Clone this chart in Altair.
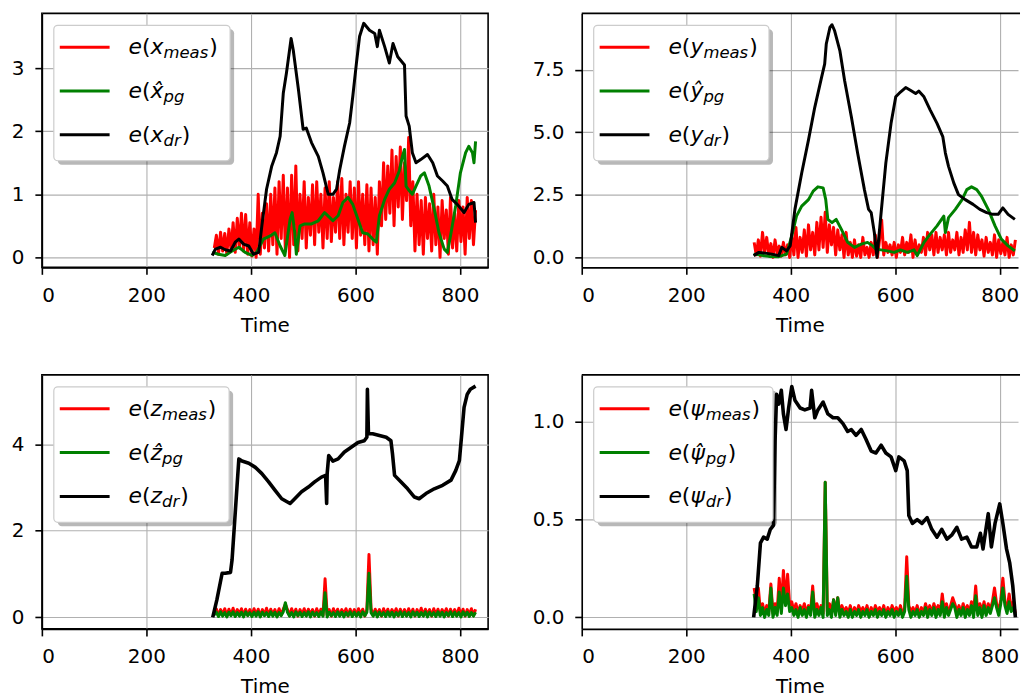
import altair as alt
import pandas as pd

FONT = "DejaVu Sans"
PW, PH = 448, 255
PW_R = 438                      # right-hand panels are cut by the page edge
XDOM = [0, 854]
XDOM_R = [0, 835]
XTICKS = [0, 200, 400, 600, 800]

# common sample times of the noisy measured / pose-graph series
T_NOISY = list(range(330, 831, 4))

# ---------------- panel 1 : x ----------------
t_x_dr = [326, 332, 342, 351, 361, 370, 377, 386, 396, 405, 415, 421, 430, 440, 449, 456, 462, 468, 477, 481,
          491, 500, 506, 516, 529, 538, 548, 557, 564, 570, 579, 589, 595, 602, 608, 616, 627, 637, 642, 646,
          656, 665, 672, 681, 694, 697, 703, 709, 716, 725, 738, 748, 757, 767, 776, 785, 795, 808, 817, 827, 830]
v_x_dr = [0.03, 0.13, 0.16, 0.12, 0.10, 0.24, 0.29, 0.21, 0.18, 0.05, 0.08, 0.50, 1.08, 1.45, 1.66, 1.92, 2.60, 2.92, 3.47, 3.29,
          2.66, 2.03, 2.05, 1.82, 1.60, 1.34, 1.00, 1.00, 1.08, 1.39, 1.76, 2.13, 2.55, 3.08, 3.50, 3.71, 3.60, 3.55, 3.34, 3.60,
          3.34, 3.08, 3.39, 3.18, 3.05, 2.24, 2.08, 1.66, 1.50, 1.55, 1.63, 1.50, 1.29, 1.21, 1.13, 0.92, 0.84, 0.71, 0.84, 0.87, 0.55]
t_x_pg = [326, 338, 351, 364, 377, 389, 402, 411, 424, 437, 446, 456, 465, 475, 479, 484, 487, 494, 503, 516,
          529, 541, 551, 557, 567, 576, 586, 595, 605, 614, 624, 633, 640, 646, 656, 665, 675, 684, 690, 694,
          697, 701, 709, 716, 725, 732, 741, 751, 760, 770, 776, 782, 792, 801, 811, 817, 824, 827, 830]
v_x_pg = [0.08, 0.05, 0.03, 0.10, 0.16, 0.08, 0.03, 0.08, 0.29, 0.34, 0.39, 0.18, 0.03, 0.60, 0.71, 0.39, 0.05, 0.50, 0.53, 0.53,
          0.58, 0.71, 0.63, 0.58, 0.66, 0.87, 0.95, 0.84, 0.60, 0.39, 0.37, 0.29, 0.24, 0.66, 0.92, 1.08, 1.18, 1.37, 1.60, 1.71,
          1.13, 1.08, 1.00, 1.13, 1.29, 1.34, 1.13, 0.76, 0.39, 0.13, 0.08, 0.34, 0.82, 1.34, 1.66, 1.76, 1.66, 1.50, 1.84]
v_x_meas = [0.15, 0.35, 0.05, 0.40, 0.10, 0.38, 0.05, 0.45, 0.12, 0.55, 0.08, 0.62, 0.15, 0.70, 0.10, 0.68, 0.05, 0.55, 0.02, 0.45,
            0.00, 1.00, 0.05, 0.70, 0.15, 0.85, 0.10, 1.00, 0.20, 1.10, 0.05, 1.20, 0.30, 1.30, 0.10, 1.10, 0.00, 1.30, 0.20, 1.45,
            0.10, 1.00, 0.30, 1.20, 0.15, 0.95, 0.35, 1.15, 0.20, 1.20, 0.40, 1.00, 0.15, 1.10, 0.30, 1.20, 0.25, 0.95, 0.40, 1.20,
            0.30, 1.25, 0.20, 1.00, 0.40, 1.20, 0.30, 1.10, 0.15, 1.20, 0.35, 1.00, 0.20, 1.15, 0.10, 1.10, 0.20, 0.95, 0.05, 1.20,
            0.50, 1.50, 0.60, 1.45, 0.70, 1.70, 0.50, 1.60, 0.80, 1.75, 0.60, 1.50, 0.90, 1.90, 0.50, 1.20, 0.10, 1.00, 0.20, 0.90,
            0.05, 0.95, 0.30, 0.85, 0.10, 1.00, 0.20, 0.80, 0.00, 0.90, 0.30, 0.75, 0.05, 0.95, 0.15, 0.70, 0.10, 0.90, 0.25, 0.80,
            0.05, 0.95, 0.30, 0.90, 0.20, 0.75]

# ---------------- panel 2 : y ----------------
t_y_dr = [329, 339, 351, 364, 377, 383, 392, 399, 408, 421, 434, 446, 459, 465, 468, 475, 479, 484, 494, 503,
          516, 528, 541, 549, 554, 560, 565, 573, 582, 592, 601, 610, 620, 629, 639, 645, 655, 667, 680, 691,
          696, 702, 712, 721, 734, 749, 762, 775, 787, 797, 806, 816, 829]
v_y_dr = [0.07, 0.20, 0.17, 0.13, 0.07, 0.40, 0.26, 0.46, 1.92, 3.37, 4.70, 6.00, 7.20, 7.74, 8.53, 9.19, 9.30, 9.06, 8.27, 7.08,
          5.62, 4.17, 2.71, 1.92, 1.79, 0.99, 0.00, 1.79, 3.77, 5.36, 6.42, 6.61, 6.79, 6.68, 6.55, 6.65, 6.42, 5.89, 5.36, 4.83,
          4.17, 3.64, 2.98, 2.51, 2.31, 2.12, 1.92, 1.79, 1.72, 1.72, 1.98, 1.72, 1.52]
t_y_pg = [329, 342, 358, 377, 392, 402, 411, 421, 434, 443, 452, 462, 467, 471, 479, 487, 497, 509, 522, 535,
          547, 557, 563, 573, 585, 598, 610, 623, 636, 642, 655, 667, 680, 693, 696, 702, 715, 728, 737, 746,
          756, 765, 778, 791, 803, 816, 829]
v_y_pg = [0.13, 0.09, 0.04, 0.03, 0.13, 0.86, 1.65, 2.05, 2.31, 2.65, 2.82, 2.78, 2.31, 1.52, 1.39, 1.52, 1.12, 0.60, 0.40, 0.53,
          0.60, 0.46, 0.33, 0.30, 0.26, 0.20, 0.30, 0.20, 0.30, 0.07, 0.60, 0.93, 1.26, 1.65, 0.99, 1.59, 1.92, 2.31, 2.71, 2.82,
          2.71, 2.45, 1.92, 1.26, 0.73, 0.46, 0.26]
v_y_meas = [0.60, 0.10, 0.70, 0.05, 1.00, 0.20, 0.80, 0.10, 0.55, 0.00, 0.70, 0.15, 0.45, 0.05, 0.60, 0.10, 0.50, 0.00, 0.90, 0.10,
            1.20, 0.00, 0.80, 0.20, 1.10, 0.05, 1.30, 0.30, 1.00, 0.10, 1.40, 0.30, 1.60, 0.40, 1.80, 0.20, 1.30, 0.50, 1.20, 0.10,
            1.10, 0.30, 0.90, 0.00, 1.00, 0.10, 0.60, 0.00, 0.70, 0.05, 0.50, 0.00, 0.80, 0.10, 0.40, 0.00, 0.60, 0.10, 0.90, 0.00,
            0.70, 1.50, 0.10, 0.60, 0.20, 0.50, 0.10, 0.60, 0.00, 0.50, 0.20, 0.80, 0.10, 0.60, 0.20, 0.90, 0.00, 0.70, 0.10, 0.50,
            0.20, 0.80, 0.10, 1.00, 0.30, 0.90, 0.10, 1.00, 0.20, 0.80, 0.30, 0.90, 0.10, 1.00, 0.20, 0.70, 0.30, 1.00, 0.10, 0.80,
            0.20, 1.10, 0.30, 1.40, 0.20, 1.00, 0.10, 0.90, 0.30, 0.70, 0.05, 0.80, 0.20, 0.60, 0.10, 0.90, 0.00, 0.70, 0.15, 0.60,
            0.10, 0.80, 0.00, 0.50, 0.10, 0.70]

# ---------------- panel 3 : z ----------------
t_z_dr = [327, 335, 345, 351, 361, 364, 370, 377, 383, 396, 408, 421, 434, 446, 459, 475, 484, 497, 510, 522,
          535, 543, 545, 546, 549, 557, 567, 579, 592, 605, 617, 622, 623, 625, 633, 646, 659, 668, 671, 675,
          687, 700, 713, 722, 735, 751, 767, 783, 792, 799, 803, 808, 814, 820, 830]
v_z_dr = [0.00, 0.41, 1.02, 1.02, 1.04, 1.33, 2.40, 3.66, 3.61, 3.56, 3.47, 3.32, 3.13, 2.94, 2.74, 2.63, 2.74, 2.90, 3.01, 3.13,
          3.24, 3.28, 2.63, 3.32, 3.74, 3.61, 3.66, 3.82, 3.93, 4.04, 4.08, 4.16, 5.27, 4.24, 4.24, 4.20, 4.16, 4.08, 3.78, 3.28,
          3.13, 2.97, 2.78, 2.74, 2.86, 2.97, 3.05, 3.17, 3.39, 3.62, 4.16, 4.85, 5.15, 5.27, 5.34]
v_z_meas = [0.10, 0.19, 0.04, 0.18, 0.06, 0.20, 0.03, 0.19, 0.05, 0.21, 0.04, 0.18, 0.07, 0.20, 0.03, 0.19, 0.05, 0.18, 0.04, 0.20,
            0.06, 0.19, 0.03, 0.18, 0.05, 0.21, 0.04, 0.19, 0.06, 0.18, 0.03, 0.20, 0.05, 0.19, 0.30, 0.18, 0.04, 0.20, 0.06, 0.19,
            0.03, 0.18, 0.05, 0.20, 0.04, 0.19, 0.06, 0.18, 0.03, 0.20, 0.05, 0.19, 0.04, 0.89, 0.06, 0.18, 0.03, 0.20, 0.05, 0.19,
            0.04, 0.18, 0.06, 0.20, 0.03, 0.19, 0.05, 0.18, 0.04, 0.20, 0.06, 0.19, 0.03, 0.18, 1.45, 0.20, 0.04, 0.19, 0.06, 0.18,
            0.03, 0.20, 0.05, 0.19, 0.04, 0.18, 0.06, 0.20, 0.03, 0.19, 0.05, 0.18, 0.04, 0.20, 0.06, 0.19, 0.03, 0.18, 0.05, 0.21,
            0.04, 0.19, 0.06, 0.18, 0.03, 0.20, 0.05, 0.19, 0.04, 0.18, 0.06, 0.20, 0.03, 0.19, 0.05, 0.18, 0.04, 0.21, 0.06, 0.19,
            0.03, 0.18, 0.05, 0.20, 0.04, 0.19]
v_z_pg = [0.06, 0.12, 0.02, 0.13, 0.03, 0.11, 0.01, 0.12, 0.04, 0.13, 0.02, 0.11, 0.03, 0.12, 0.01, 0.13, 0.04, 0.11, 0.02, 0.12,
          0.03, 0.13, 0.01, 0.12, 0.04, 0.11, 0.02, 0.13, 0.03, 0.12, 0.01, 0.11, 0.04, 0.13, 0.34, 0.12, 0.03, 0.11, 0.01, 0.13,
          0.04, 0.12, 0.02, 0.11, 0.03, 0.13, 0.01, 0.12, 0.04, 0.11, 0.02, 0.13, 0.03, 0.57, 0.01, 0.12, 0.04, 0.11, 0.02, 0.13,
          0.03, 0.12, 0.01, 0.11, 0.04, 0.13, 0.02, 0.12, 0.03, 0.11, 0.01, 0.13, 0.04, 0.12, 1.02, 0.11, 0.03, 0.13, 0.01, 0.12,
          0.04, 0.11, 0.02, 0.13, 0.03, 0.12, 0.01, 0.11, 0.04, 0.13, 0.02, 0.12, 0.03, 0.11, 0.01, 0.13, 0.04, 0.12, 0.02, 0.11,
          0.03, 0.13, 0.01, 0.12, 0.04, 0.11, 0.02, 0.13, 0.03, 0.12, 0.01, 0.11, 0.04, 0.13, 0.02, 0.12, 0.03, 0.11, 0.01, 0.13,
          0.04, 0.12, 0.02, 0.11, 0.03, 0.12]

# ---------------- panel 4 : psi ----------------
t_p_dr = [329, 336, 342, 348, 355, 361, 367, 370, 373, 377, 382, 386, 391, 396, 402, 408, 418, 427, 437, 440,
          446, 452, 462, 471, 481, 490, 500, 509, 516, 525, 535, 544, 554, 563, 573, 582, 592, 601, 607, 617,
          623, 626, 633, 642, 651, 661, 670, 680, 689, 699, 708, 718, 727, 737, 746, 756, 763, 768, 778, 784,
          791, 800, 806, 813, 819, 825, 830]
v_p_dr = [0.00, 0.16, 0.38, 0.41, 0.40, 0.45, 0.47, 0.90, 1.14, 1.09, 1.16, 1.04, 0.96, 1.07, 1.18, 1.11, 1.07, 1.06, 1.07, 1.16,
          1.02, 1.06, 1.10, 1.04, 1.02, 1.02, 0.99, 0.95, 0.96, 0.93, 0.96, 0.91, 0.85, 0.84, 0.88, 0.84, 0.82, 0.75, 0.82, 0.80,
          0.75, 0.52, 0.48, 0.50, 0.48, 0.51, 0.45, 0.41, 0.45, 0.40, 0.42, 0.46, 0.40, 0.41, 0.36, 0.36, 0.43, 0.35, 0.53, 0.36,
          0.48, 0.58, 0.48, 0.35, 0.28, 0.16, 0.00]
v_p_meas = [0.15, 0.08, 0.15, 0.03, 0.07, 0.02, 0.06, 0.03, 0.17, 0.02, 0.07, 0.03, 0.20, 0.05, 0.24, 0.08, 0.22, 0.06, 0.08, 0.03,
            0.07, 0.02, 0.06, 0.03, 0.07, 0.02, 0.06, 0.03, 0.16, 0.02, 0.07, 0.03, 0.06, 0.02, 0.69, 0.03, 0.07, 0.02, 0.09, 0.03,
            0.10, 0.02, 0.06, 0.03, 0.05, 0.02, 0.06, 0.01, 0.05, 0.02, 0.06, 0.03, 0.05, 0.02, 0.06, 0.01, 0.05, 0.02, 0.06, 0.03,
            0.05, 0.02, 0.06, 0.01, 0.05, 0.02, 0.06, 0.03, 0.05, 0.02, 0.06, 0.01, 0.05, 0.31, 0.06, 0.03, 0.05, 0.02, 0.06, 0.01,
            0.05, 0.02, 0.07, 0.03, 0.06, 0.02, 0.07, 0.03, 0.06, 0.02, 0.12, 0.03, 0.07, 0.02, 0.06, 0.10, 0.07, 0.03, 0.06, 0.02,
            0.07, 0.03, 0.06, 0.02, 0.08, 0.03, 0.16, 0.02, 0.07, 0.03, 0.08, 0.02, 0.07, 0.04, 0.08, 0.15, 0.07, 0.03, 0.09, 0.20,
            0.08, 0.04, 0.12, 0.05, 0.08, 0.02]
v_p_pg = [0.12, 0.03, 0.10, 0.01, 0.05, 0.00, 0.04, 0.01, 0.15, 0.00, 0.05, 0.01, 0.13, 0.02, 0.15, 0.06, 0.12, 0.03, 0.05, 0.01,
          0.04, 0.00, 0.05, 0.01, 0.04, 0.00, 0.05, 0.01, 0.13, 0.00, 0.04, 0.01, 0.05, 0.00, 0.69, 0.01, 0.04, 0.00, 0.09, 0.01,
          0.10, 0.00, 0.04, 0.01, 0.03, 0.00, 0.04, 0.00, 0.03, 0.01, 0.04, 0.00, 0.03, 0.01, 0.04, 0.00, 0.03, 0.01, 0.04, 0.00,
          0.03, 0.01, 0.04, 0.00, 0.03, 0.01, 0.04, 0.00, 0.03, 0.01, 0.04, 0.00, 0.03, 0.21, 0.04, 0.00, 0.03, 0.01, 0.04, 0.00,
          0.03, 0.01, 0.05, 0.00, 0.04, 0.01, 0.05, 0.00, 0.04, 0.01, 0.08, 0.00, 0.05, 0.01, 0.04, 0.07, 0.05, 0.00, 0.04, 0.01,
          0.05, 0.00, 0.04, 0.01, 0.06, 0.00, 0.11, 0.01, 0.05, 0.00, 0.06, 0.01, 0.05, 0.02, 0.06, 0.10, 0.05, 0.01, 0.07, 0.15,
          0.06, 0.02, 0.08, 0.03, 0.05, 0.01]

RED, GREEN, BLACK = "#ff0000", "#008000", "#000000"

# glyph advance widths (em) for laying out the math-style legend labels
W_MAIN = {"e": 0.615, "(": 0.390, ")": 0.390, "x": 0.592, "y": 0.592, "z": 0.525, "ψ": 0.70, "\u0302": 0.0}
W_SUB = {"m": 0.974, "e": 0.615, "a": 0.613, "s": 0.521, "p": 0.635, "g": 0.635, "d": 0.635, "r": 0.411}
FS_MAIN, FS_SUB = 22, 16.5

ONE = pd.DataFrame({"k": [0]})


def text_piece(x, y, s, size, italic):
    kw = dict(align="left", baseline="alphabetic", font=FONT, fontSize=size, color="black")
    if italic:
        kw["fontStyle"] = "italic"
    return alt.Chart(ONE).mark_text(**kw).encode(x=alt.value(x), y=alt.value(y), text=alt.value(s))


def legend(sym, labels, box_right):
    layers = [
        alt.Chart(ONE).mark_rect(fill="#000000", opacity=0.28, cornerRadius=4).encode(
            x=alt.value(16), x2=alt.value(box_right + 4), y=alt.value(16), y2=alt.value(152)),
        alt.Chart(ONE).mark_rect(fill="white", stroke="#cccccc", strokeWidth=1.2, cornerRadius=4).encode(
            x=alt.value(12), x2=alt.value(box_right), y=alt.value(12), y2=alt.value(148)),
    ]
    rows = [(RED, 34, sym, labels[0], True), (GREEN, 78, sym + "\u0302", labels[1], labels[2]), (BLACK, 122, sym, "dr", True)]
    for color, ly, s, sub, close in rows:
        layers.append(alt.Chart(ONE).mark_rule(color=color, strokeWidth=3).encode(
            x=alt.value(18), x2=alt.value(68), y=alt.value(ly)))
        bx = 87
        by = ly + 7
        layers.append(text_piece(bx, by, "e", FS_MAIN, True))
        bx += W_MAIN["e"] * FS_MAIN
        layers.append(text_piece(bx, by, "(", FS_MAIN, False))
        bx += W_MAIN["("] * FS_MAIN
        layers.append(text_piece(bx, by, s, FS_MAIN, True))
        bx += sum(W_MAIN[c] for c in s) * FS_MAIN
        layers.append(text_piece(bx, by + 4, sub, FS_SUB, True))
        bx += sum(W_SUB[c] for c in sub) * FS_SUB + 1
        if close:
            layers.append(text_piece(bx, by, ")", FS_MAIN, False))
    return layers


def panel(series, ydom, yticks, fmt, sym, pg_close, box_right, black_width, right=False):
    layers = []
    width = PW_R if right else PW
    xdom = XDOM_R if right else XDOM
    for t, v, color in series:
        df = pd.DataFrame({"t": t, "v": v})
        sw = black_width if color == BLACK else 3.0
        layers.append(alt.Chart(df).mark_line(color=color, strokeWidth=sw, clip=True, strokeJoin="round").encode(
            x=alt.X("t:Q", scale=alt.Scale(domain=xdom, nice=False, zero=False),
                    axis=alt.Axis(values=XTICKS, format="d", title="Time")),
            y=alt.Y("v:Q", scale=alt.Scale(domain=ydom, nice=False, zero=False),
                    axis=alt.Axis(values=yticks, format=fmt, title=None)),
        ))
    if right:
        # top spine only; the right spine lies beyond the page edge
        layers.append(alt.Chart(ONE).mark_rule(color="black", strokeWidth=1.6).encode(
            x=alt.value(0), x2=alt.value(width + 2), y=alt.value(0)))
    layers += legend(sym, ["meas", "pg", pg_close], box_right)
    ch = alt.layer(*layers).properties(width=width, height=PH)
    if right:
        ch = ch.properties(view=alt.ViewBackground(stroke="transparent"))
    return ch


p1 = panel([(T_NOISY, v_x_meas, RED), (t_x_pg, v_x_pg, GREEN), (t_x_dr, v_x_dr, BLACK)],
           [-0.158, 3.868], [0, 1, 2, 3], "d", "x", False, 189, 3.0)
p2 = panel([(T_NOISY, v_y_meas, RED), (t_y_pg, v_y_pg, GREEN), (t_y_dr, v_y_dr, BLACK)],
           [-0.398, 9.757], [0, 2.5, 5, 7.5], ".1f", "y", False, 188, 3.0, right=True)
p3 = panel([(T_NOISY, v_z_meas, RED), (T_NOISY, v_z_pg, GREEN), (t_z_dr, v_z_dr, BLACK)],
           [-0.266, 5.60], [0, 2, 4], "d", "z", False, 188, 3.6)
p4 = panel([(T_NOISY, v_p_meas, RED), (T_NOISY, v_p_pg, GREEN), (t_p_dr, v_p_dr, BLACK)],
           [-0.059, 1.239], [0, 0.5, 1.0], ".1f", "ψ", True, 192, 3.6, right=True)

chart = alt.concat(p1, p2, p3, p4, columns=2, spacing={"row": 108, "column": 94}, bounds="flush").properties(
    padding={"left": 2, "top": 2, "right": 0, "bottom": 0}
).configure_view(
    stroke="black", strokeWidth=1.6
).configure_axis(
    grid=True, gridColor="#b0b0b0", gridWidth=1.1,
    domainColor="black", domainWidth=1.6,
    tickColor="black", tickWidth=1.6, tickSize=7,
    labelFont=FONT, labelFontSize=20, labelColor="black", labelPadding=11,
    titleFont=FONT, titleFontSize=20, titleFontWeight="normal", titleColor="black", titlePadding=10,
)

chart.save("out.html", embed_options={"renderer": "svg", "actions": False})
